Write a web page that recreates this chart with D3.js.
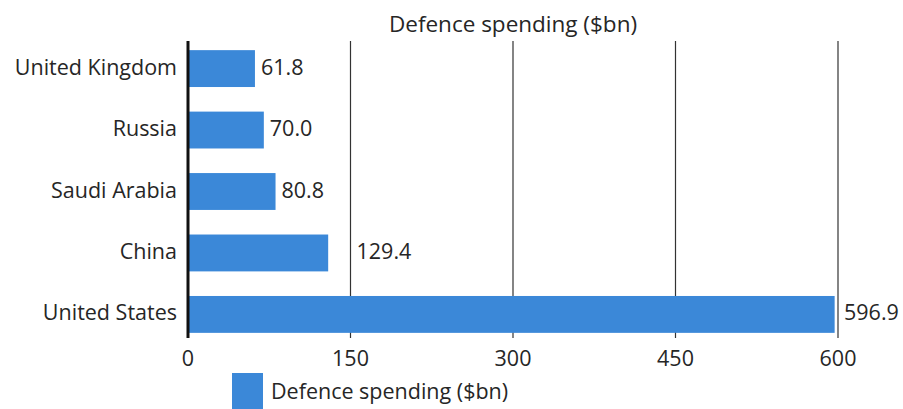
<!DOCTYPE html>
<html>
<head>
<meta charset="utf-8">
<script src="https://cdn.jsdelivr.net/npm/d3@7"></script>
<style>
  html, body { margin: 0; padding: 0; background: #fff; }
  svg { display: block; }
  text { font-family: "Open Sans", Lato, sans-serif; fill: #262626; }
</style>
</head>
<body>
<svg id="chart" width="903" height="409"></svg>
<script>
// Defence spending by country, $bn
const countries = ["United Kingdom", "Russia", "Saudi Arabia", "China", "United States"];
const spending = [61.8, 70.0, 80.8, 129.4, 596.9];
const tickValues = [0, 150, 300, 450, 600];
const seriesName = "Defence spending ($bn)";

const svg = d3.select("#chart");
const barColor = "#3b88d8";
const fontSize = 21.5;

const x = d3.scaleLinear().domain([0, 600]).range([188, 838]);
const y = d3.scaleBand().domain(countries).range([44, 339])
  .paddingInner(0.4).paddingOuter(0.1);

const gridTop = 41, gridBottom = 338;

// vertical gridlines at each tick
svg.append("g").selectAll("line")
  .data(tickValues.filter(t => t > 0))
  .join("line")
  .attr("x1", d => x(d)).attr("x2", d => x(d))
  .attr("y1", gridTop).attr("y2", gridBottom)
  .attr("stroke", "#333").attr("stroke-width", 1.2);

// bars
svg.append("g").selectAll("rect")
  .data(countries.map((c, i) => ({ c, v: spending[i] })))
  .join("rect")
  .attr("x", x(0))
  .attr("y", d => y(d.c))
  .attr("width", d => x(d.v) - x(0))
  .attr("height", y.bandwidth())
  .attr("fill", barColor);

// zero baseline
svg.append("line")
  .attr("x1", x(0)).attr("x2", x(0))
  .attr("y1", gridTop).attr("y2", gridBottom)
  .attr("stroke", "#111").attr("stroke-width", 3);

// x axis tick labels
svg.append("g").selectAll("text")
  .data(tickValues)
  .join("text")
  .attr("x", d => x(d))
  .attr("y", 366)
  .attr("text-anchor", "middle")
  .attr("font-size", fontSize)
  .text(d => d);

// category labels
svg.append("g").selectAll("text")
  .data(countries)
  .join("text")
  .attr("x", x(0) - 11)
  .attr("y", d => y(d) + y.bandwidth() / 2)
  .attr("dy", "0.28em")
  .attr("text-anchor", "end")
  .attr("font-size", fontSize)
  .text(d => d);

// value labels, nudged past any gridline they would cross
const labels = svg.append("g").selectAll("text")
  .data(countries.map((c, i) => ({ c, v: spending[i] })))
  .join("text")
  .attr("y", d => y(d.c) + y.bandwidth() / 2)
  .attr("dy", "0.28em")
  .attr("font-size", fontSize)
  .text(d => d.v.toFixed(1));

labels.each(function(d) {
  const w = this.getComputedTextLength();
  let lx = x(d.v) + 6;
  for (const t of tickValues) {
    if (t === 0) continue;
    const gx = x(t);
    if (gx >= lx - 8 && gx <= lx + w) lx = gx + 6;
  }
  d3.select(this).attr("x", lx);
});

// title
svg.append("text")
  .attr("x", (x(0) + x(600)) / 2)
  .attr("y", 32)
  .attr("text-anchor", "middle")
  .attr("font-size", 22.5)
  .text(seriesName);

// legend
const lg = svg.append("g");
lg.append("rect")
  .attr("x", 232).attr("y", 373)
  .attr("width", 31).attr("height", 36)
  .attr("fill", barColor);
lg.append("text")
  .attr("x", 271).attr("y", 399)
  .attr("font-size", fontSize)
  .text(seriesName);
</script>
</body>
</html>
